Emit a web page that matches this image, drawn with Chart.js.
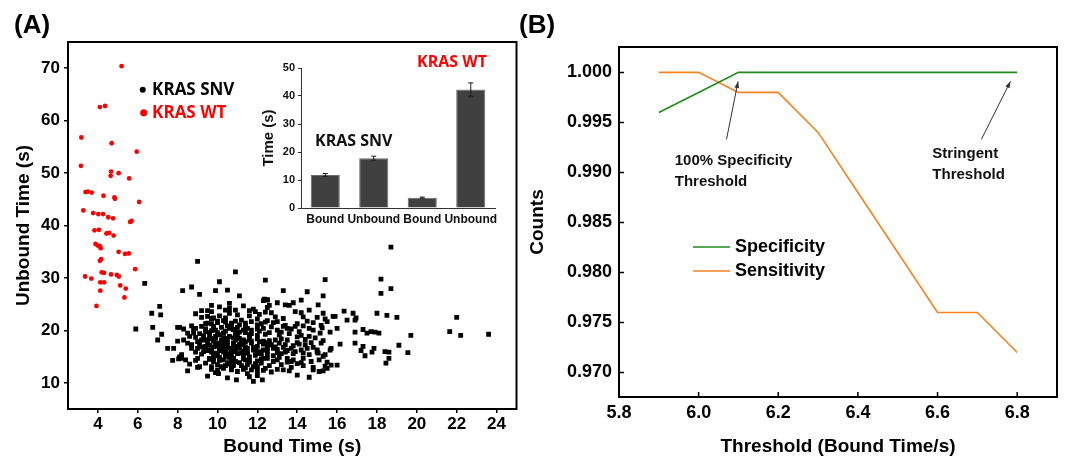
<!DOCTYPE html>
<html>
<head>
<meta charset="utf-8">
<script src="https://cdn.jsdelivr.net/npm/chart.js@4.4.1/dist/chart.umd.min.js"></script>
<style>
html, body { margin: 0; padding: 0; background: #fff; }
#wrap { position: relative; width: 1072px; height: 460px; overflow: hidden; }
canvas { position: absolute; }
.plabel { position: absolute; font: bold 26px "Liberation Sans", Arial, sans-serif; line-height: 26px; color: #000; }
</style>
</head>
<body>
<div id="wrap">
  <canvas id="chartA" width="536" height="460" style="left:0;top:0"></canvas>
  <canvas id="chartInset" width="250" height="190" style="left:255px;top:45px"></canvas>
  <canvas id="chartB" width="552" height="460" style="left:520px;top:0"></canvas>
  <div class="plabel" style="left:14px;top:11px">(A)</div>
  <div class="plabel" style="left:519px;top:11px">(B)</div>
</div>
<script>
// Panel A: [bound time, unbound time] in seconds
const wtPoints = [
  [5.19,70.4],[4.10,62.6],[4.36,62.8],[3.17,56.8],[4.69,55.7],[5.95,54.1],[3.15,51.4],[4.66,50.3],[4.64,49.5],
  [5.04,50.0],[5.57,49.0],[3.38,46.4],[3.50,46.5],[3.69,46.3],[4.28,45.7],[4.83,45.4],[4.85,45.1],[6.07,44.5],
  [3.27,42.9],[3.76,42.4],[4.02,42.2],[4.26,42.2],[4.52,41.6],[4.76,41.4],[5.62,40.7],[5.69,40.9],[3.83,39.1],
  [4.05,39.2],[4.43,38.5],[4.57,38.6],[4.79,38.1],[3.88,36.5],[4.00,36.2],[4.10,36.1],[4.14,35.7],[4.16,33.6],
  [4.10,33.3],[5.04,35.0],[5.36,34.6],[5.55,34.7],[3.36,30.3],[3.67,29.9],[4.19,31.1],[4.31,31.0],[4.66,30.7],
  [4.95,30.6],[5.05,30.3],[5.87,31.7],[4.12,29.2],[4.31,29.2],[4.12,27.6],[5.12,28.6],[5.40,28.0],[5.33,26.3],
  [3.93,24.7]
];

const snvPoints = [
  // outliers and edges
  [18.7,35.9],[9.0,33.2],[10.9,31.2],[6.35,29.0],[15.4,29.7],[18.2,29.8],[12.4,29.6],[10.1,29.3],[8.25,27.6],
  [8.7,28.3],[9.1,26.9],[9.9,27.6],[10.5,27.7],[11.1,26.6],[13.3,27.6],[14.5,27.4],[15.3,26.6],[18.2,27.1],
  [18.7,28.0],[12.35,26.0],[12.5,25.9],[5.9,20.3],[6.7,23.3],[7.1,24.6],[7.15,23.0],[6.75,20.6],[7.0,18.2],
  [7.2,19.3],[7.5,16.6],[7.8,16.6],[7.75,14.3],[8.05,14.6],[8.0,18.0],[8.0,20.6],[8.5,12.3],[9.0,13.0],
  [9.5,11.3],[10.05,11.8],[10.5,11.0],[10.95,10.6],[11.8,10.3],[12.25,10.6],[12.0,11.4],[14.0,11.5],[14.6,11.1],
  [14.8,13.0],[15.3,12.3],[15.5,12.8],[15.7,13.4],[16.0,13.4],[15.4,13.2],[16.35,23.7],[16.8,23.3],[16.95,22.4],
  [16.9,19.7],[17.3,20.2],[17.5,19.5],[17.7,19.8],[17.9,19.7],[18.1,19.5],[16.9,17.6],[17.3,17.0],[17.2,16.2],
  [17.4,15.2],[17.75,15.9],[17.85,16.6],[18.0,23.3],[18.5,22.9],[19.0,22.5],[19.1,17.2],[18.4,16.0],[18.6,15.9],
  [18.6,14.7],[18.45,13.8],[19.55,15.8],[19.7,19.1],[21.65,19.8],[22.0,22.5],[22.2,19.1],[23.6,19.3],[16.0,20.4],
  [15.65,19.7],[15.25,20.5],[15.15,19.5],[15.3,23.3],[15.8,22.7],[15.05,24.9],[15.5,21.7],[16.15,17.4],[15.65,16.3],
  [15.3,15.1],[15.05,15.7],
  // upper band
  [8.9,23.2],[9.2,23.8],[9.5,23.8],[9.7,24.8],[9.7,23.6],[10.1,24.5],[10.4,23.9],[10.6,25.2],[10.6,24.2],
  [10.9,23.9],[11.3,24.7],[11.6,23.8],[11.8,24.1],[11.9,23.6],[12.3,25.7],[12.5,25.8],[12.5,24.4],[12.6,24.8],
  [13.0,25.3],[13.4,24.9],[13.6,24.8],[13.8,25.3],[14.2,25.8],[13.9,23.6],[14.2,23.4],[14.6,23.9],[15.0,22.5],
  [15.4,22.2],[15.9,22.7],[16.5,22.0],[16.9,22.0],[12.4,23.5],[12.7,23.4],[11.6,22.8],[12.1,23.1],[10.1,22.8],
  [10.6,23.3],[9.5,22.7],[9.2,22.5],[9.7,22.3],
  // 19-22 s band
  [8.1,20.6],[8.3,20.3],[8.7,20.9],[8.9,20.4],[9.2,20.8],[9.4,21.3],[9.7,21.3],[9.8,20.8],[10.0,21.5],
  [10.3,21.9],[10.4,22.4],[10.7,21.4],[10.9,21.8],[11.2,22.0],[11.4,21.4],[11.5,20.4],[11.7,21.7],[12.0,22.2],
  [12.2,21.3],[12.5,21.9],[12.8,21.5],[13.0,21.7],[13.3,20.8],[13.5,20.4],[13.7,20.3],[14.0,21.3],[14.3,20.9],
  [14.5,21.8],[14.8,21.5],[15.2,21.0],[8.5,19.5],[8.8,20.1],[9.1,19.4],[9.4,19.8],[9.9,20.1],[10.3,19.5],
  [10.6,20.4],[10.9,19.9],[11.3,20.1],[11.6,19.2],[12.0,20.3],[12.3,20.4],[12.6,19.6],[13.0,20.1],[13.2,19.7],
  [13.6,19.4],[14.1,19.8],[14.2,19.1],[14.8,20.1],[14.6,18.9],
  // 15-19 s band
  [8.1,15.0],[8.3,18.2],[8.5,17.6],[8.7,16.6],[8.9,18.7],[9.1,17.5],[9.3,16.0],[9.4,18.2],[9.6,17.2],
  [9.8,18.5],[10.0,17.0],[10.1,16.2],[10.3,17.9],[10.4,16.6],[10.6,15.6],[10.8,17.6],[10.9,16.3],[11.1,18.5],
  [11.3,17.3],[11.5,15.8],[11.6,18.2],[11.8,16.8],[12.0,15.6],[12.1,17.9],[12.3,16.3],[12.5,17.1],[12.6,18.1],
  [12.8,16.6],[13.0,15.8],[13.1,17.6],[13.3,16.8],[13.5,18.2],[13.8,15.6],[14.0,17.7],[14.2,16.3],[14.4,17.3],
  [14.6,15.4],[14.8,16.8],[15.0,15.9],[15.2,17.6],[15.4,15.4],[15.7,16.6],[8.7,17.3],[9.0,16.6],[9.2,18.2],
  [9.4,17.0],[9.7,16.3],[9.9,15.7],[10.0,17.6],[10.2,17.0],[10.4,15.7],[10.5,17.3],[10.7,16.3],[10.9,18.2],
  [11.0,17.0],[11.2,15.7],[11.4,17.9],[11.5,16.6],[11.7,17.6],[11.9,16.3],[12.0,17.0],[12.2,15.6],[12.4,17.7],
  [12.5,16.1],[12.7,17.3],[12.9,18.2],[13.0,16.4],[13.2,15.6],[13.4,17.3],[13.7,16.6],[13.9,16.0],[14.1,17.4],
  [14.3,15.7],[14.5,16.6],[15.0,16.3],[14.7,17.7],
  // lower band
  [8.2,14.7],[8.6,13.6],[9.1,13.1],[9.7,12.6],[9.8,14.1],[10.0,13.5],[10.3,12.8],[10.5,13.9],[10.7,12.5],
  [10.8,13.3],[11.1,13.9],[11.3,12.6],[11.5,13.5],[11.6,11.2],[11.8,13.1],[12.0,12.2],[12.2,13.8],[12.4,12.8],
  [12.6,13.3],[12.8,14.1],[13.0,12.6],[13.2,13.5],[13.3,12.5],[13.5,14.0],[13.7,13.0],[14.0,13.7],[14.2,13.9],
  [14.3,13.3],[14.8,12.5],[15.1,12.2],[8.2,15.4],[8.4,14.4],[8.9,14.3],[9.0,14.7],[9.4,13.8],[9.6,14.5],
  [10.1,14.3],[10.4,15.0],[10.8,14.7],[11.4,14.4],[11.6,14.3],[12.5,14.7],[13.0,14.4],[13.5,14.7],[13.8,14.4],
  [14.3,14.7],[14.7,14.1],[15.1,14.4],[15.5,14.0],
  // dense core
  [9.5,21.4],[9.8,22.4],[10.0,21.8],[10.4,21.6],[10.7,21.1],[11.0,20.6],[11.4,20.9],[11.7,20.1],[12.0,21.1],
  [12.4,21.6],[9.6,19.2],[9.9,18.5],[10.3,19.5],[10.6,18.9],[10.9,19.2],[11.3,18.2],[11.6,18.7],[12.0,19.1],
  [12.3,18.0],[9.4,16.6],[9.8,16.9],[10.1,16.3],[10.4,17.3],[10.8,16.0],[11.1,16.6],[11.5,15.7],[11.8,16.3],
  [12.1,16.0],[12.5,16.6],[9.6,14.7],[9.9,15.2],[10.3,14.4],[10.6,14.9],[10.9,14.1],[11.3,14.6],[11.6,15.0],
  [12.0,14.2],[12.3,14.7],[9.7,13.1],[10.0,12.5],[10.4,13.3],[10.7,12.8],[11.0,12.2],[11.4,12.9],[11.7,12.5],
  [12.0,13.1],[9.5,17.8],[9.8,18.0],[10.1,17.4],[10.3,18.6],[10.5,17.9],[10.7,15.3],[10.9,16.8],[11.2,17.8],
  [9.7,15.9],[10.0,15.5],[10.2,16.7],[10.5,15.0],[10.8,17.2],[11.0,18.9],[11.3,15.4],[10.1,19.2],[10.4,19.9],
  [9.9,18.9],[10.6,16.6],[11.1,19.7],[9.6,19.6],[10.3,15.9],[10.8,14.6],[9.8,14.8],
  [9.3,19.0],[9.6,18.4],[9.9,17.3],[10.2,18.2],[10.5,18.5],[10.8,18.6],[11.1,17.4],[11.4,16.9],[11.7,18.0],
  [12.0,18.4],[12.3,17.4],[12.6,17.6],[12.9,16.9],[13.2,18.4],[13.5,16.2],[13.8,17.1],[9.2,15.5],[9.5,16.2],
  [9.8,15.4],[10.1,14.9],[10.4,16.4],[10.7,14.2],[11.0,15.6],[11.3,16.1],[11.6,14.0],[11.9,15.3],[12.2,14.6],
  [12.5,15.4],[12.8,15.2],[13.1,14.9],[13.4,15.9],[13.7,14.1],[9.4,20.3],[9.7,20.0],[10.0,19.6],[10.2,20.6],
  [10.5,20.9],[10.8,20.2],[11.1,21.1],[11.4,19.6],[11.7,19.4],[12.1,19.9],[12.4,19.3],[12.7,20.7],[13.1,19.2],
  [13.4,21.0],[9.0,17.9],[9.2,16.9],[8.9,15.9],[8.6,18.9],[8.8,19.5],[10.2,13.1],[10.6,13.6],[11.2,13.3],
  [11.9,13.7],[12.3,12.4],[9.9,12.0],[11.5,11.8],[12.7,12.1],[13.6,12.3],[14.4,18.3],[14.9,18.6],[14.0,18.8],
  [13.9,20.8],[14.6,20.4],[15.3,18.1],[12.9,22.6],[11.0,23.0],[13.3,22.3],[14.3,22.6]
];

const xTicksA = [4, 6, 8, 10, 12, 14, 16, 18, 20, 22, 24];
const yTicksA = [10, 20, 30, 40, 50, 60, 70];

// Inset: mean times with error bars
const insetLabels = ['Bound', 'Unbound', 'Bound', 'Unbound'];
const insetMeans = [11.8, 17.8, 3.7, 42.3];
const insetErrors = [0.5, 0.7, 0.2, 2.4];
const insetTicks = [0, 10, 20, 30, 40, 50];

// Panel B: specificity / sensitivity against bound-time threshold
const thresholds = [5.9, 6.0, 6.1, 6.2, 6.3, 6.4, 6.5, 6.6, 6.7, 6.8];
const specificity = [0.996, 0.998, 1.000, 1.000, 1.000, 1.000, 1.000, 1.000, 1.000, 1.000];
const sensitivity = [1.000, 1.000, 0.998, 0.998, 0.994, 0.988, 0.982, 0.976, 0.976, 0.972];
const xTicksB = [5.8, 6.0, 6.2, 6.4, 6.6, 6.8];
const yTicksB = [0.970, 0.975, 0.980, 0.985, 0.990, 0.995, 1.000];

const ARIAL = '"Liberation Sans", Arial, sans-serif';
const OPEN = '"Open Sans", sans-serif';

const setTicks = (list) => (scale) => { scale.ticks = list.map(v => ({ value: v })); };

// ---------- panel A ----------
const panelAPlugin = {
  id: 'panelA',
  afterDatasetsDraw(chart) {
    const { ctx, chartArea: a, scales: { x, y } } = chart;
    ctx.save();
    ctx.strokeStyle = '#000';
    ctx.lineWidth = 2;
    ctx.strokeRect(a.left, a.top, a.right - a.left, a.bottom - a.top);

    // legend
    ctx.font = 'bold 17px ' + OPEN;
    ctx.textBaseline = 'middle';
    ctx.fillStyle = '#000';
    ctx.beginPath();
    ctx.arc(x.getPixelForValue(6.25), y.getPixelForValue(65.9), 3, 0, Math.PI * 2);
    ctx.fill();
    ctx.fillText('KRAS SNV', x.getPixelForValue(6.72), y.getPixelForValue(65.9));
    ctx.fillStyle = '#ff0000';
    ctx.beginPath();
    ctx.arc(x.getPixelForValue(6.3), y.getPixelForValue(61.5), 3.6, 0, Math.PI * 2);
    ctx.fill();
    ctx.fillText('KRAS WT', x.getPixelForValue(6.72), y.getPixelForValue(61.5));
    ctx.restore();
  }
};

new Chart(document.getElementById('chartA'), {
  type: 'scatter',
  data: {
    datasets: [
      {
        label: 'KRAS SNV',
        data: snvPoints.map(p => ({ x: p[0], y: p[1] })),
        pointStyle: 'rect',
        pointRadius: 3.4,
        pointBorderWidth: 0,
        backgroundColor: '#000'
      },
      {
        label: 'KRAS WT',
        data: wtPoints.map(p => ({ x: p[0], y: p[1] })),
        pointStyle: 'circle',
        pointRadius: 2.4,
        pointBorderWidth: 0,
        backgroundColor: '#ff0000'
      }
    ]
  },
  options: {
    responsive: false,
    animation: false,
    layout: { padding: { left: 0, top: 42, right: 19.5, bottom: 0 } },
    plugins: { legend: { display: false }, tooltip: { enabled: false } },
    scales: {
      x: {
        type: 'linear', min: 2.5, max: 25,
        afterBuildTicks: setTicks(xTicksA),
        afterFit: s => { s.height = 51; },
        grid: { drawOnChartArea: false, drawTicks: true, tickLength: 4, color: '#000', lineWidth: 1.5 },
        border: { display: false },
        ticks: { color: '#000', font: { family: ARIAL, size: 17, weight: 'bold' }, padding: 1, maxRotation: 0, autoSkip: false, callback: v => String(v) },
        title: { display: true, text: 'Bound Time (s)', color: '#000', font: { family: ARIAL, size: 19, weight: 'bold' }, padding: { top: 0, bottom: 2 } }
      },
      y: {
        type: 'linear', min: 5.05, max: 75,
        afterBuildTicks: setTicks(yTicksA),
        afterFit: s => { s.width = 68; },
        grid: { drawOnChartArea: false, drawTicks: true, tickLength: 4, color: '#000', lineWidth: 1.5 },
        border: { display: false },
        ticks: { color: '#000', font: { family: ARIAL, size: 17, weight: 'bold' }, padding: 4, autoSkip: false, callback: v => String(v) },
        title: { display: true, text: 'Unbound Time (s)', color: '#000', font: { family: ARIAL, size: 19, weight: 'bold' }, padding: { top: 12, bottom: 0 } }
      }
    }
  },
  plugins: [panelAPlugin]
});

// ---------- inset ----------
const insetPlugin = {
  id: 'inset',
  afterDatasetsDraw(chart) {
    const { ctx, scales: { x, y } } = chart;
    ctx.save();
    ctx.strokeStyle = '#1a1a1a';
    ctx.lineWidth = 1;
    insetMeans.forEach((m, i) => {
      const px = x.getPixelForValue(i);
      const top = y.getPixelForValue(m + insetErrors[i]);
      const bot = y.getPixelForValue(m - insetErrors[i]);
      ctx.beginPath();
      ctx.moveTo(px, top); ctx.lineTo(px, bot);
      ctx.moveTo(px - 2.5, top); ctx.lineTo(px + 2.5, top);
      ctx.moveTo(px - 2.5, bot); ctx.lineTo(px + 2.5, bot);
      ctx.stroke();
    });
    ctx.font = 'bold 16px ' + OPEN;
    ctx.textBaseline = 'middle';
    ctx.fillStyle = '#111';
    ctx.fillText('KRAS SNV', 60, 96);
    ctx.fillStyle = '#ff0000';
    ctx.fillText('KRAS WT', 162, 17);
    ctx.restore();
  }
};

new Chart(document.getElementById('chartInset'), {
  type: 'bar',
  data: {
    labels: insetLabels,
    datasets: [{
      data: insetMeans,
      backgroundColor: '#404040',
      borderColor: '#6b6b6b',
      borderWidth: 1,
      barPercentage: 0.6,
      categoryPercentage: 1
    }]
  },
  options: {
    responsive: false,
    animation: false,
    layout: { padding: { left: 0, top: 23, right: 10, bottom: 0 } },
    plugins: { legend: { display: false }, tooltip: { enabled: false } },
    scales: {
      x: {
        afterFit: s => { s.height = 27; },
        grid: { display: true, drawOnChartArea: false, drawTicks: false },
        border: { display: true, color: '#333', width: 1 },
        ticks: { color: '#111', font: { family: ARIAL, size: 12, weight: 'bold' }, padding: 4, maxRotation: 0, autoSkip: false }
      },
      y: {
        min: 0, max: 50,
        afterBuildTicks: setTicks(insetTicks),
        afterFit: s => { s.width = 46; },
        grid: { drawOnChartArea: false, drawTicks: true, tickLength: 3, color: '#333' },
        border: { display: true, color: '#333', width: 1 },
        ticks: { color: '#111', font: { family: ARIAL, size: 11, weight: 'bold' }, padding: 3, callback: v => String(v) },
        title: { display: true, text: 'Time (s)', color: '#111', font: { family: ARIAL, size: 15, weight: 'bold' }, padding: { top: 5, bottom: 0 } }
      }
    }
  },
  plugins: [insetPlugin]
});

// ---------- panel B ----------
function arrow(ctx, x1, y1, x2, y2) {
  const ang = Math.atan2(y2 - y1, x2 - x1);
  ctx.beginPath();
  ctx.moveTo(x1, y1);
  ctx.lineTo(x2, y2);
  ctx.stroke();
  ctx.beginPath();
  ctx.moveTo(x2, y2);
  ctx.lineTo(x2 - 7 * Math.cos(ang - 0.35), y2 - 7 * Math.sin(ang - 0.35));
  ctx.lineTo(x2 - 7 * Math.cos(ang + 0.35), y2 - 7 * Math.sin(ang + 0.35));
  ctx.closePath();
  ctx.fill();
}

const panelBPlugin = {
  id: 'panelB',
  afterDatasetsDraw(chart) {
    const { ctx, chartArea: a, scales: { x, y } } = chart;
    ctx.save();
    ctx.strokeStyle = '#000';
    ctx.lineWidth = 2;
    ctx.strokeRect(a.left, a.top, a.right - a.left, a.bottom - a.top);

    // inward ticks
    ctx.lineWidth = 1.5;
    ctx.beginPath();
    x.ticks.forEach(t => {
      const px = x.getPixelForValue(t.value);
      ctx.moveTo(px, a.bottom); ctx.lineTo(px, a.bottom - 5);
    });
    y.ticks.forEach(t => {
      const py = y.getPixelForValue(t.value);
      ctx.moveTo(a.left, py); ctx.lineTo(a.left + 5, py);
    });
    ctx.stroke();

    // annotations
    ctx.strokeStyle = '#333';
    ctx.fillStyle = '#333';
    ctx.lineWidth = 1;
    arrow(ctx, x.getPixelForValue(6.07), y.getPixelForValue(0.9933), x.getPixelForValue(6.099), y.getPixelForValue(0.9991));
    arrow(ctx, x.getPixelForValue(6.71), y.getPixelForValue(0.9933), x.getPixelForValue(6.783), y.getPixelForValue(0.9991));
    ctx.fillStyle = '#111';
    ctx.font = 'bold 15px ' + ARIAL;
    ctx.textBaseline = 'middle';
    ctx.fillText('100% Specificity', x.getPixelForValue(5.94), y.getPixelForValue(0.99114));
    ctx.fillText('Threshold', x.getPixelForValue(5.94), y.getPixelForValue(0.98907));
    ctx.fillText('Stringent', x.getPixelForValue(6.587), y.getPixelForValue(0.99184));
    ctx.fillText('Threshold', x.getPixelForValue(6.587), y.getPixelForValue(0.98977));

    // legend
    const items = chart.data.datasets;
    ctx.font = 'bold 18px ' + ARIAL;
    items.forEach((ds, i) => {
      const ly = a.top + 200 + i * 24;
      ctx.strokeStyle = ds.borderColor;
      ctx.lineWidth = 1.5;
      ctx.beginPath();
      ctx.moveTo(a.left + 74, ly);
      ctx.lineTo(a.left + 111, ly);
      ctx.stroke();
      ctx.fillStyle = '#000';
      ctx.fillText(ds.label, a.left + 116, ly);
    });
    ctx.restore();
  }
};

new Chart(document.getElementById('chartB'), {
  type: 'line',
  data: {
    datasets: [
      {
        label: 'Specificity',
        data: thresholds.map((t, i) => ({ x: t, y: specificity[i] })),
        borderColor: '#1e8a1e',
        borderWidth: 1.6,
        pointRadius: 0,
        tension: 0
      },
      {
        label: 'Sensitivity',
        data: thresholds.map((t, i) => ({ x: t, y: sensitivity[i] })),
        borderColor: '#f5821f',
        borderWidth: 1.6,
        pointRadius: 0,
        tension: 0
      }
    ]
  },
  options: {
    responsive: false,
    animation: false,
    layout: { padding: { left: 0, top: 47, right: 15, bottom: 0 } },
    plugins: { legend: { display: false }, tooltip: { enabled: false } },
    scales: {
      x: {
        type: 'linear', min: 5.8, max: 6.9,
        afterBuildTicks: setTicks(xTicksB),
        afterFit: s => { s.height = 63; },
        grid: { drawOnChartArea: false, drawTicks: false },
        border: { display: false },
        ticks: { color: '#000', font: { family: ARIAL, size: 18, weight: 'bold' }, padding: 5, maxRotation: 0, autoSkip: false, callback: v => v.toFixed(1) },
        title: { display: true, text: 'Threshold (Bound Time/s)', color: '#000', font: { family: ARIAL, size: 19, weight: 'bold' }, padding: { top: 0, bottom: 2 } }
      },
      y: {
        type: 'linear', min: 0.96755, max: 1.00254,
        afterBuildTicks: setTicks(yTicksB),
        afterFit: s => { s.width = 99; },
        grid: { drawOnChartArea: false, drawTicks: false },
        border: { display: false },
        ticks: { color: '#000', font: { family: ARIAL, size: 18, weight: 'bold' }, padding: 7, autoSkip: false, callback: v => v.toFixed(3) },
        title: { display: true, text: 'Counts', color: '#000', font: { family: ARIAL, size: 19, weight: 'bold' }, padding: { top: 6.6, bottom: 0 } }
      }
    }
  },
  plugins: [panelBPlugin]
});
</script>
</body>
</html>
